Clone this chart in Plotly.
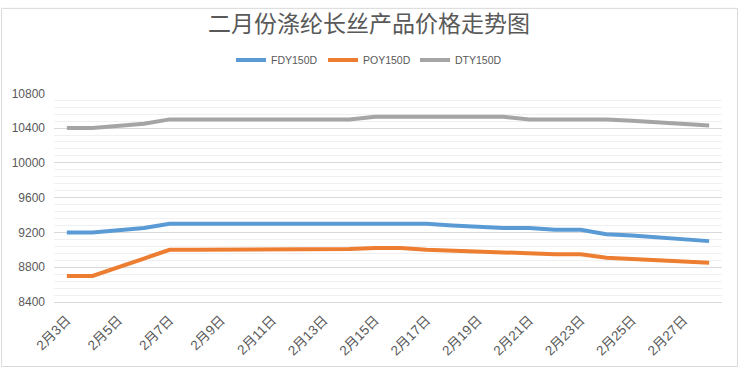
import plotly.graph_objects as go

dates = ["2月3日", "2月4日", "2月5日", "2月6日", "2月7日", "2月8日", "2月9日",
         "2月10日", "2月11日", "2月12日", "2月13日", "2月14日", "2月15日",
         "2月16日", "2月17日", "2月18日", "2月19日", "2月20日", "2月21日",
         "2月22日", "2月23日", "2月24日", "2月25日", "2月26日", "2月27日", "2月28日"]

fdy150d = [9200, 9200, None, 9250, 9300, 9300, 9300, 9300, 9300, 9300, 9300, 9300, 9300,
           9300, 9300, 9280, 9265, 9250, 9250, 9230, 9230, 9180, 9165, 9145, 9125, 9100]
poy150d = [8700, 8700, None, 8900, 9000, 9000, 9000, 9000, 9000, 9000, 9000, 9010, 9020,
           9020, 9000, 8990, 8980, 8970, 8950, 8950, 8950, 8910, 8895, 8880, 8865, 8850]
dty150d = [10400, 10400, None, 10450, 10500, 10500, 10500, 10500, 10500, 10500, 10500, 10500, 10530,
           10530, 10530, 10530, 10530, 10530, 10500, 10500, 10500, 10500, 10485, 10465, 10450, 10430]

series = [("FDY150D", fdy150d, "#5B9BD5"),
          ("POY150D", poy150d, "#ED7D31"),
          ("DTY150D", dty150d, "#A5A5A5")]

y_ticks = [8400, 8800, 9200, 9600, 10000, 10400, 10800]
label_dates = dates[::2]

W, H = 738, 370
ML, MR, MT, MB = 53, 16, 88, 67

fig = go.Figure()
for name, vals, color in series:
    fig.add_trace(go.Scatter(x=dates, y=vals, name=name, mode="lines",
                             connectgaps=True,
                             line=dict(color=color, width=4)))

n = len(dates)
boundaries = [i - 0.5 for i in range(0, n + 1, 2)]

fig.update_layout(
    width=W, height=H,
    margin=dict(l=ML, r=MR, t=MT, b=MB),
    paper_bgcolor="white", plot_bgcolor="white",
    title=dict(text="二月份涤纶长丝产品价格走势图", x=0.5, xref="container", xanchor="center",
               y=1 - 24 / H, yref="container", yanchor="middle",
               font=dict(family="Noto Sans CJK SC", size=23, color="#595959")),
    legend=dict(orientation="h", x=0.5, xref="container", xanchor="center",
                y=1 - 60 / H, yref="container", yanchor="middle",
                font=dict(family="Liberation Sans, Noto Sans CJK SC", size=10.5, color="#595959"),
                itemwidth=30, tracegroupgap=0, entrywidth=47, entrywidthmode="pixels"),
    xaxis=dict(type="category", categoryorder="array", categoryarray=dates,
               range=[-0.5, n - 0.5],
               tickmode="array", tickvals=label_dates, ticktext=label_dates,
               tickangle=-45, ticks="", showgrid=False, ticklabelstandoff=4,
               showline=True, linecolor="#D9D9D9", linewidth=1,
               tickfont=dict(family="Liberation Sans, Noto Sans CJK SC", size=13.5, color="#595959")),
    xaxis2=dict(overlaying="x", anchor="y", side="bottom", range=[-0.5, n - 0.5],
                tickmode="array", tickvals=boundaries, showticklabels=False,
                ticks="outside", ticklen=5, tickcolor="#D9D9D9", showgrid=False,
                showline=False, zeroline=False),
    yaxis=dict(range=[8400, 10800], tickmode="array", tickvals=y_ticks,
               ticktext=[str(v) for v in y_ticks],
               showgrid=True, gridcolor="#D9D9D9", gridwidth=1, zeroline=False,
               ticks="", ticklabelstandoff=8,
               tickfont=dict(family="Liberation Sans", size=12, color="#595959"),
               minor=dict(dtick=80, tick0=8400, showgrid=True, gridcolor="#F0F0F0", gridwidth=1)),
    shapes=[dict(type="rect", xref="paper", yref="paper",
                 x0=-(ML - 0.5) / (W - ML - MR), x1=1 + (MR - 0.5) / (W - ML - MR),
                 y0=-(MB - 0.5) / (H - MT - MB), y1=1 + (MT - 0.5) / (H - MT - MB),
                 line=dict(color="#D9D9D9", width=1), layer="below")],
)

fig.write_html("out.html", config={"displayModeBar": False},
               post_script="document.body.style.margin='0';")
